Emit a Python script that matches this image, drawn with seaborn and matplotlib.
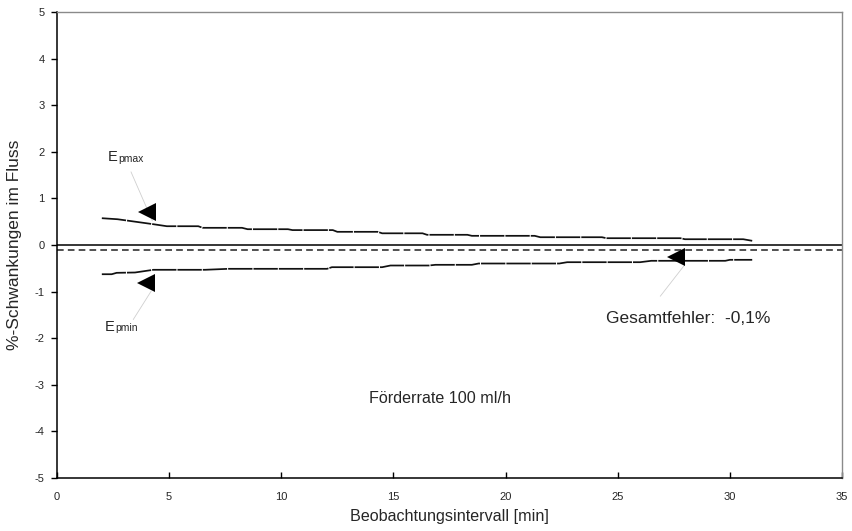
import matplotlib
matplotlib.use("Agg")
import matplotlib.pyplot as plt
import seaborn as sns
import pandas as pd

# Upper fluctuation envelope (Epmax), vertices in [min] / [%]
epmax_x = [2.0, 2.7, 4.3, 4.9, 6.3, 6.5, 8.25, 8.5, 10.3, 10.5, 12.3, 12.5,
           14.3, 14.5, 16.3, 16.5, 18.3, 18.5, 21.3, 21.55, 24.3, 24.5,
           27.8, 28.0, 30.6, 31.0]
epmax_y = [0.575, 0.553, 0.446, 0.403, 0.403, 0.369, 0.369, 0.339, 0.339, 0.32,
           0.32, 0.283, 0.283, 0.251, 0.251, 0.219, 0.219, 0.197, 0.197, 0.167,
           0.167, 0.146, 0.146, 0.124, 0.124, 0.09]

# Lower fluctuation envelope (Epmin)
epmin_x = [2.0, 2.44, 2.66, 3.48, 4.3, 6.6, 7.65, 12.04, 12.26, 14.5, 14.87,
           16.58, 16.88, 18.5, 18.8, 22.4, 22.75, 26.0, 26.5, 29.8, 30.0, 31.0]
epmin_y = [-0.627, -0.627, -0.597, -0.59, -0.532, -0.532, -0.511, -0.511, -0.476,
           -0.476, -0.44, -0.44, -0.425, -0.425, -0.397, -0.397, -0.369, -0.369,
           -0.339, -0.339, -0.318, -0.318]

total_error = -0.1          # Gesamtfehler in %
x_ticks = [0, 5, 10, 15, 20, 25, 30, 35]
y_ticks = [-5, -4, -3, -2, -1, 0, 1, 2, 3, 4, 5]

sns.set_theme(style="white")
plt.rcParams["font.family"] = ["Liberation Sans", "DejaVu Sans"]

fig = plt.figure(figsize=(8.53, 5.31), dpi=100)
ax = fig.add_axes([0.0668, 0.0998, 0.9202, 0.8776])

df_max = pd.DataFrame({"t": epmax_x, "e": epmax_y})
df_min = pd.DataFrame({"t": epmin_x, "e": epmin_y})

ax.axhline(0, color="black", lw=1.1, zorder=2)
ax.axhline(total_error, color="#333333", lw=1.2, dashes=(4, 2.5), zorder=2)

sns.lineplot(data=df_max, x="t", y="e", ax=ax, color="#111111", lw=1.25,
             estimator=None, sort=False, zorder=3)
sns.lineplot(data=df_min, x="t", y="e", ax=ax, color="#111111", lw=1.25,
             estimator=None, sort=False, zorder=3)
for ln in ax.lines[2:]:
    ln.set_dashes((14, 0.6))

# label leaders and arrow heads
leaders = [((3.3, 1.57), (4.25, 0.52)),
           ((3.4, -1.6), (4.2, -0.99)),
           ((26.9, -1.1), (28.0, -0.42))]
for (x0, y0), (x1, y1) in leaders:
    ax.plot([x0, x1], [y0, y1], color="#cfcfcf", lw=0.6, zorder=1)
heads = [(4.0, 0.71), (3.95, -0.82), (27.6, -0.26)]
for hx, hy in heads:
    ax.plot([hx], [hy], marker="<", markersize=13, color="black",
            markeredgewidth=0, zorder=4)

# text labels
ax.text(2.28, 1.88, "E", fontsize=10.5, va="center", ha="left")
ax.text(2.72, 1.84, "pmax", fontsize=7.5, va="center", ha="left")
ax.text(2.14, -1.75, "E", fontsize=10.5, va="center", ha="left")
ax.text(2.58, -1.79, "pmin", fontsize=7.5, va="center", ha="left")
ax.text(24.5, -1.57, "Gesamtfehler:  -0,1%", fontsize=12.5, va="center", ha="left")
ax.text(17.1, -3.29, "Förderrate 100 ml/h", fontsize=11.6, va="center", ha="center")

ax.set_xlim(0, 35)
ax.set_ylim(-5, 5)
ax.set_xticks(x_ticks)
ax.set_yticks(y_ticks)
ax.set_xticklabels([str(v) for v in x_ticks], fontsize=8)
ax.set_yticklabels([str(v) for v in y_ticks], fontsize=8)
ax.tick_params(axis="x", direction="in", length=4, width=1, color="black",
               pad=10, bottom=True)
ax.tick_params(axis="y", direction="out", length=4, width=1, color="black",
               pad=5, left=True)
ax.set_xlabel("Beobachtungsintervall [min]", fontsize=11.6, labelpad=5)
ax.set_ylabel("%-Schwankungen im Fluss", fontsize=12.5, labelpad=9)

for side in ("left", "bottom"):
    ax.spines[side].set_color("black")
    ax.spines[side].set_linewidth(1.1)
for side in ("top", "right"):
    ax.spines[side].set_color("#8a8a8a")
    ax.spines[side].set_linewidth(1.0)
ax.grid(False)

fig.savefig("out.png", dpi=100)
